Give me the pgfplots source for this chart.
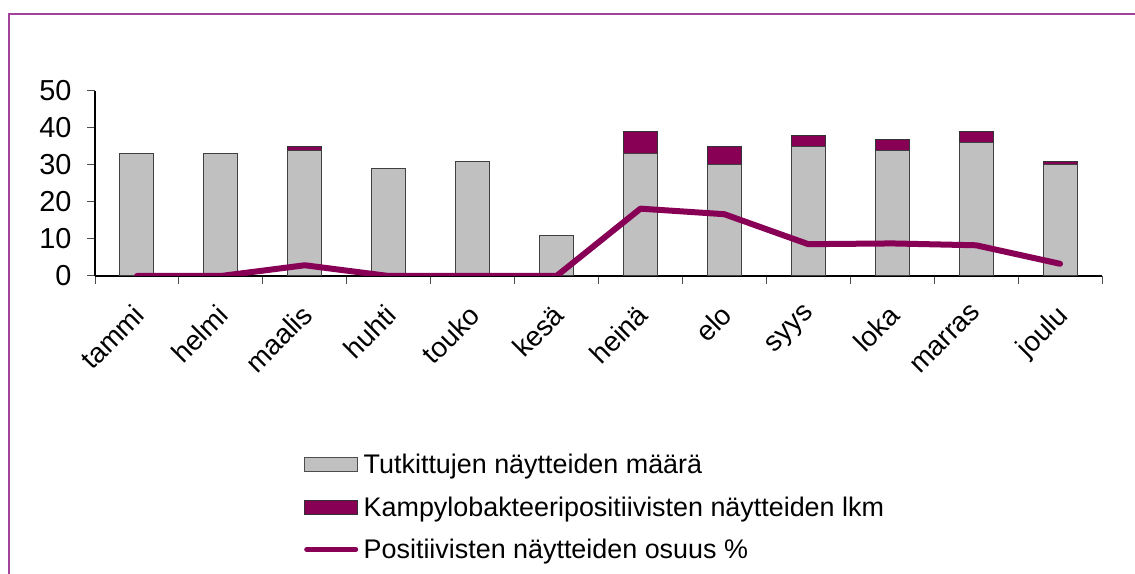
\documentclass[border=0pt]{standalone}
\usepackage{pgfplots}
\pgfplotsset{compat=1.18}
\usepackage{fontspec}
\setmainfont{Liberation Sans}
\definecolor{plum}{HTML}{880055}
\definecolor{framec}{HTML}{A0449A}
\definecolor{barg}{HTML}{C0C0C0}
\begin{document}
\begin{tikzpicture}[x=1bp,y=1bp]
\useasboundingbox (0,0) rectangle (1135,574);
\draw[framec, line width=2bp] (9,-5) -- (9,560) -- (1140,560);
\pgfplotsset{base/.style={
  scale only axis, width=1007bp, height=185bp,
  at={(95bp,298bp)}, anchor=south west,
  xmin=-0.5, xmax=11.5, ymin=0, ymax=50,
  /pgf/number format/assume math mode=true,
}}
\begin{axis}[base,
  ybar stacked, bar width=34bp,
  axis x line*=bottom, axis y line*=left,
  axis line style={line width=1.2bp, -},
  tick align=outside, major tick length=8bp, minor tick length=8bp,
  tick style={line width=1bp, black!70},
  ytick={0,10,...,50},
  yticklabel style={font=\fontsize{29}{32}\selectfont, xshift=-12bp},
  xtick={0,...,11},
  xticklabels={tammi,helmi,maalis,huhti,touko,kes\"a,hein\"a,elo,syys,loka,marras,joulu},
  major x tick style={draw=none},
  minor xtick={-0.5,0.5,...,11.5},
  xticklabel style={xshift=-5bp, yshift=-14bp, rotate=45, anchor=north east, font=\fontsize{28}{30}\selectfont},
]
\addplot[fill=barg, draw=black!75, line width=1bp] coordinates {(0,33) (1,33) (2,34) (3,29) (4,31) (5,11) (6,33) (7,30) (8,35) (9,34) (10,36) (11,30)};
\addplot[fill=plum, draw=black!80, line width=1bp] coordinates {(0,0) (1,0) (2,1) (3,0) (4,0) (5,0) (6,6) (7,5) (8,3) (9,3) (10,3) (11,1)};
\end{axis}
\begin{axis}[base, hide axis,
  legend style={draw=none, fill=none, at={(0.2046,-0.94)}, anchor=north west,
    font=\fontsize{27}{30}\selectfont, row sep=17.5bp,
    nodes={inner xsep=5.5bp}},
  legend cell align=left,
]
\addlegendimage{legend image code/.code={\draw[fill=barg,draw=black!70,line width=1bp] (0bp,-7bp) rectangle (53bp,7bp);}}
\addlegendentry{Tutkittujen näytteiden määrä}
\addlegendimage{legend image code/.code={\draw[fill=plum,draw=black!80,line width=1bp] (0bp,-7bp) rectangle (53bp,7bp);}}
\addlegendentry{Kampylobakteeripositiivisten näytteiden lkm}
\addplot[plum, line width=6bp, line cap=round, line join=round,
  legend image code/.code={\draw[plum,line width=5bp,line cap=round] (2bp,0bp) -- (51bp,0bp);}]
  coordinates {(0,0) (1,0) (2,2.9) (3,0) (4,0) (5,0) (6,18.2) (7,16.7) (8,8.6) (9,8.8) (10,8.3) (11,3.3)};
\addlegendentry{Positiivisten näytteiden osuus \%}
\end{axis}
\end{tikzpicture}
\end{document}
